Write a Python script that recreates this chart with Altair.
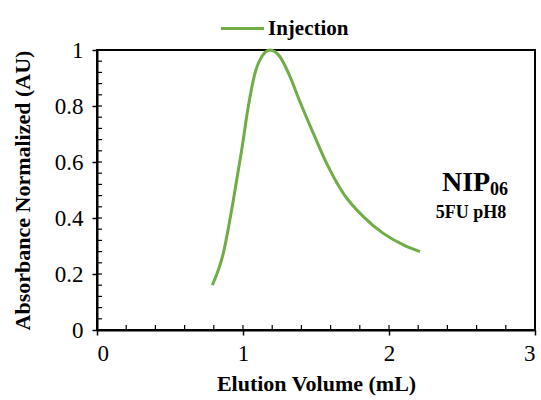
import altair as alt
import pandas as pd

# Elution profile (normalized absorbance vs elution volume)
volume = [0.79, 0.865, 0.934, 0.991, 1.036, 1.082, 1.128, 1.185,
          1.253, 1.322, 1.39, 1.482, 1.573, 1.687, 1.824, 1.961, 2.098, 2.212]
absorbance = [0.16, 0.274, 0.464, 0.643, 0.797, 0.917, 0.976, 1.0,
              0.976, 0.905, 0.815, 0.702, 0.595, 0.488, 0.405, 0.345, 0.304, 0.28]
series = ["Injection"] * len(volume)

x_major = [0, 1, 2, 3]
x_minor = [round(i * 0.2, 2) for i in range(16)]
y_major = [0, 0.2, 0.4, 0.6, 0.8, 1.0]
y_minor = [round(i * 0.04, 2) for i in range(26)]

W, H = 438, 280
GREEN = "#70AD47"
FONT = "'Liberation Serif', 'Times New Roman', serif"
X_TITLE = "Elution Volume (mL)"
Y_TITLE = "Absorbance Normalized (AU)"

df = pd.DataFrame({"volume": volume, "absorbance": absorbance, "series": series})

x_scale = alt.Scale(domain=[0, 3], nice=False)
y_scale = alt.Scale(domain=[0, 1], nice=False)

x_axis = alt.Axis(values=x_major, title=X_TITLE, grid=False, format="d",
                  tickSize=5, tickWidth=1.5, tickColor="black",
                  domainColor="black", domainWidth=2, labelPadding=7, titlePadding=8)
y_axis = alt.Axis(values=y_major, title=Y_TITLE, grid=False,
                  tickSize=5, tickWidth=1.5, tickColor="black",
                  domainColor="black", domainWidth=2, labelPadding=9, titlePadding=20,
                  labelExpr="datum.value == 0 ? '0' : datum.value == 1 ? '1' : format(datum.value, '.1f')")

line = alt.Chart(df).mark_line(strokeWidth=3, interpolate="monotone").encode(
    x=alt.X("volume:Q", scale=x_scale, axis=x_axis),
    y=alt.Y("absorbance:Q", scale=y_scale, axis=y_axis),
    color=alt.Color("series:N", scale=alt.Scale(range=[GREEN]),
                    legend=alt.Legend(title=None, orient="none", legendX=122, legendY=-45,
                                      symbolType="stroke", symbolSize=1850,
                                      symbolStrokeWidth=3, labelFont=FONT,
                                      labelFontSize=21, labelFontWeight="bold",
                                      labelColor="black", labelOffset=2)),
)

# inward-facing ticks along the bottom and left axes
x_ticks = alt.Chart(pd.DataFrame({"v": x_minor})).mark_rule(
    color="black", strokeWidth=1.2).encode(
    x=alt.X("v:Q", scale=x_scale, axis=x_axis),
    y=alt.value(H - 5), y2=alt.value(H))

y_ticks = alt.Chart(pd.DataFrame({"v": y_minor})).mark_rule(
    color="black", strokeWidth=1.2).encode(
    y=alt.Y("v:Q", scale=y_scale, axis=y_axis),
    x=alt.value(0), x2=alt.value(5))

label_main = alt.Chart(pd.DataFrame({"t": ["NIP"]})).mark_text(
    font=FONT, fontSize=28, fontWeight="bold", align="left", baseline="alphabetic",
    color="black").encode(text="t:N", x=alt.value(345), y=alt.value(141))
label_sub = alt.Chart(pd.DataFrame({"t": ["06"]})).mark_text(
    font=FONT, fontSize=18, fontWeight="bold", align="left", baseline="alphabetic",
    color="black").encode(text="t:N", x=alt.value(393), y=alt.value(145))
label_cond = alt.Chart(pd.DataFrame({"t": ["5FU pH8"]})).mark_text(
    font=FONT, fontSize=18, fontWeight="bold", align="center", baseline="alphabetic",
    color="black").encode(text="t:N", x=alt.value(374), y=alt.value(168))

chart = alt.layer(line, x_ticks, y_ticks, label_main, label_sub, label_cond).properties(
    width=W, height=H,
    background="white",
    autosize=alt.AutoSizeParams(type="none"),
    padding={"left": 97, "top": 50, "right": 6, "bottom": 70},
).configure_view(
    stroke="black", strokeWidth=2
).configure_axis(
    labelFont=FONT, labelFontSize=23, labelColor="black",
    titleFont=FONT, titleFontSize=22, titleFontWeight="bold", titleColor="black",
)

chart.save("out.html", embed_options={"renderer": "svg", "actions": False})
